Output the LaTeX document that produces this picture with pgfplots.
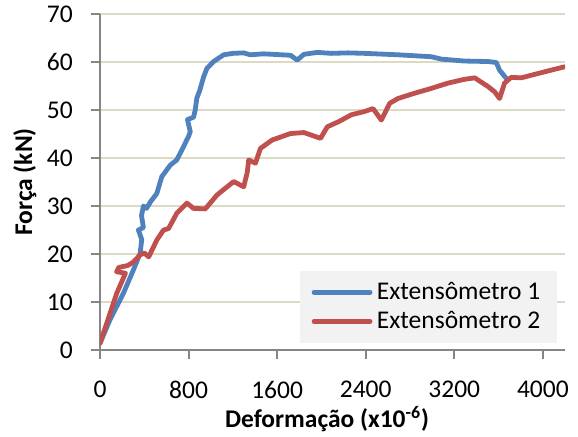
\documentclass[border=0pt]{standalone}
\usepackage{pgfplots}
\pgfplotsset{compat=1.18}
\usepackage{fontspec}
\setmainfont{Carlito}
\definecolor{exA}{HTML}{4F81BD}
\definecolor{exB}{HTML}{C0504D}
\definecolor{gridc}{RGB}{221,217,195}
\definecolor{axc}{RGB}{134,134,134}
\begin{document}
\begin{tikzpicture}
\begin{axis}[
  scale only axis,
  width=232.5pt, height=168pt,
  xmin=0, xmax=4200, ymin=0, ymax=70,
  xtick={0,800,...,4000}, ytick={0,10,...,70},
  axis x line*=bottom, axis y line*=left,
  axis line style={draw=axc, line width=1pt, -},
  tick style={draw=axc, line width=1pt},
  tick align=outside, major tick length=4.5pt,
  ymajorgrids, grid style={draw=gridc, line width=1pt},
  /pgf/number format/assume math mode=true,
  /pgf/number format/.cd, 1000 sep={}, /pgfplots/.cd,
  ticklabel style={font=\fontsize{12.75}{15}\selectfont},
  yticklabel style={xshift=-5.6pt},
  xticklabel style={yshift=-7.6pt},
  xlabel={\textbf{Deformação (x10\textsuperscript{-6})}},
  ylabel={\textbf{Força (kN)}},
  label style={font=\fontsize{12.75}{15}\selectfont},
  xlabel style={yshift=3pt, xshift=-2.7pt},
  ylabel style={yshift=-1.6pt},
  legend cell align=left,
  legend style={at={(0.983,0.021)}, anchor=south east, fill=black!5, draw=none,
    font=\fontsize{12.75}{15}\selectfont, inner xsep=6pt, inner ysep=3.5pt,
    row sep=0.5pt,
    nodes={inner xsep=2.2pt},
    /tikz/every odd column/.append style={column sep=0pt}},
  legend image code/.code={\draw[#1, line cap=round] (0pt,0pt) -- (28pt,0pt);},
  every axis plot/.append style={line width=2.4pt, line join=round, line cap=round},
]
\coordinate (bl) at (rel axis cs:0,0);
\coordinate (tr) at (rel axis cs:1,1);
\addplot[exA] coordinates {
(0,1.4) (90,6.3) (211,11.8) (302,16.7) (362,20.1) (377,23) (347,25) (392,25.5)
(375,28) (392,30) (420,29.5) (460,31) (513,32.6) (558,36.1) (634,38.5) (694,39.6)
(755,42.4) (800,44.5) (815,45.5) (790,48) (845,48.5) (860,50) (875,52.5) (900,54)
(936,56.9) (966,58.7) (1026,60.1) (1117,61.5) (1200,61.8) (1298,61.9) (1358,61.5)
(1479,61.7) (1721,61.4) (1781,60.4) (1842,61.6) (1962,62.0) (2090,61.8) (2241,61.9)
(2391,61.8) (2692,61.5) (2992,61.1) (3083,60.6) (3293,60.2) (3504,60.1) (3579,59.9)
(3609,58.3) (3669,56.6)
};
\addlegendentry{Extensômetro 1}
\addplot[exB] coordinates {
(0,1.4) (90,7.6) (151,11.8) (230,16.0) (150,16.3) (170,17.2) (250,17.6) (300,18.3)
(362,19.8) (400,20.2) (440,19.4) (513,22.9) (574,25) (619,25.3) (694,28.5) (785,30.6)
(845,29.5) (951,29.4) (1057,32.3) (1208,35.1) (1298,34.0) (1330,37) (1343,39.6)
(1404,38.9) (1449,42.0) (1555,43.75) (1721,45.1) (1842,45.3) (1992,44.1) (2053,46.5)
(2158,47.6) (2270,49.0) (2391,49.7) (2466,50.3) (2541,47.9) (2617,51.4) (2692,52.4)
(2842,53.5) (2992,54.5) (3143,55.6) (3293,56.4) (3384,56.7) (3504,54.9) (3564,53.8)
(3609,52.4) (3654,55.6) (3714,56.8) (3805,56.7) (3955,57.6) (4195,59.0)
};
\addlegendentry{Extensômetro 2}
\end{axis}
\pgfresetboundingbox
\path ([xshift=-50pt,yshift=-43pt]bl) rectangle ([xshift=6.5pt,yshift=7pt]tr);
\end{tikzpicture}
\end{document}
